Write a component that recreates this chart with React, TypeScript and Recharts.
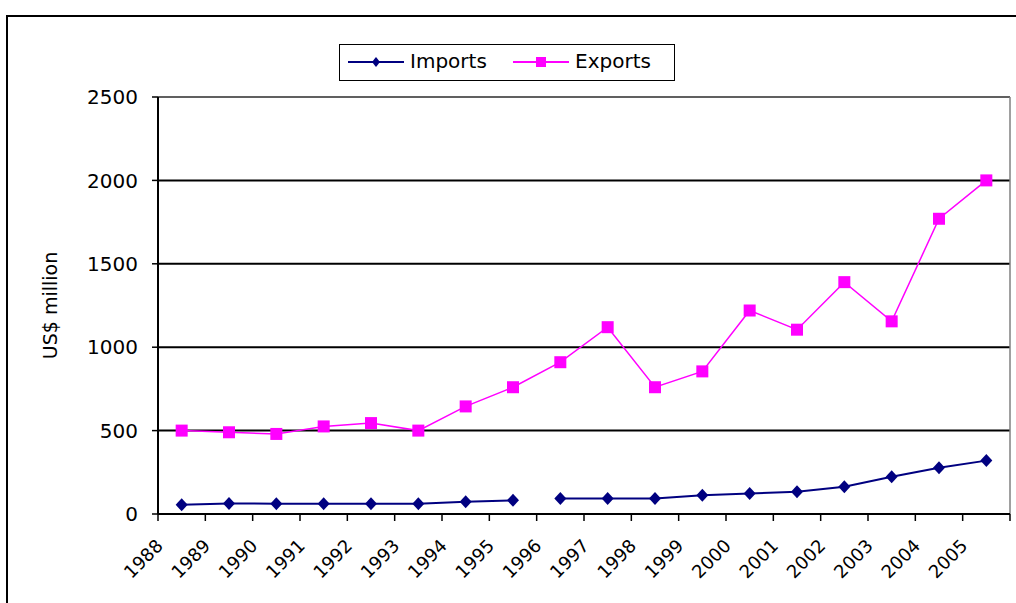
import React from 'react';
import { LineChart, Line, XAxis, YAxis, CartesianGrid, ReferenceLine } from 'recharts';

const years = ['1988', '1989', '1990', '1991', '1992', '1993', '1994', '1995', '1996', '1997', '1998', '1999', '2000', '2001', '2002', '2003', '2004', '2005'];
const exportsValues = [500, 490, 480, 525, 545, 500, 645, 760, 910, 1120, 760, 855, 1220, 1105, 1390, 1155, 1770, 2000];
const importsValues = [55, 63, 62, 62, 62, 62, 73, 82, 93, 93, 93, 113, 123, 133, 163, 223, 277, 320];
const importsBreakIndex = 8; // line is broken between 1995 and 1996
const yTicks = [0, 500, 1000, 1500, 2000, 2500];
const seriesNames = ['Imports', 'Exports'];

const NAVY = '#000080';
const MAGENTA = '#FF00FF';
const FONT = '"DejaVu Sans", Arial, sans-serif';

const rows = years.map((year, i) => ({
  x: i + 0.5,
  year,
  exports: exportsValues[i],
  importsA: i < importsBreakIndex ? importsValues[i] : null,
  importsB: i >= importsBreakIndex ? importsValues[i] : null,
}));

const xTicks = Array.from({ length: years.length + 1 }, (_, i) => i);

const Diamond = (props: any) => {
  const { cx, cy, key } = props;
  if (cx == null || cy == null || props.value == null) return <g key={key} />;
  return <path key={key} d={`M${cx},${cy - 6.5}L${cx + 6},${cy}L${cx},${cy + 6.5}L${cx - 6},${cy}Z`} fill={NAVY} />;
};

const Square = (props: any) => {
  const { cx, cy, key } = props;
  if (cx == null || cy == null) return <g key={key} />;
  return <rect key={key} x={cx - 6} y={cy - 6} width={12} height={12} fill={MAGENTA} />;
};

const XTick = (props: any) => {
  const { x, y, payload } = props;
  const label = years[payload.value];
  if (!label) return <g />;
  const ax = x + 6;
  const ay = y + 24;
  return (
    <text x={ax} y={ay} transform={`rotate(-45 ${ax} ${ay})`} textAnchor="end" fontSize={18} fontFamily={FONT} fill="#000">
      {label}
    </text>
  );
};

const YLabel = (props: any) => {
  const vb = props.viewBox || { x: 98, y: 97, width: 60, height: 417 };
  const lx = vb.x - 48;
  const ly = vb.y + vb.height / 2;
  return (
    <text x={lx} y={ly} transform={`rotate(-90 ${lx} ${ly})`} textAnchor="middle" dominantBaseline="central" fontSize={19} fontFamily={FONT} fill="#000">
      US$ million
    </text>
  );
};

const LegendItem = ({ color, marker, name, lineLeft, textLeft }: any) => (
  <>
    <svg style={{ position: 'absolute', left: lineLeft, top: 8, overflow: 'visible' }} width={56} height={18}>
      <line x1={0} y1={9} x2={56} y2={9} stroke={color} strokeWidth={2} />
      {marker === 'diamond' ? (
        <path d="M28,4L32,9L28,14L24,9Z" fill={color} />
      ) : (
        <rect x={23} y={4} width={10} height={10} fill={color} />
      )}
    </svg>
    <span style={{ position: 'absolute', left: textLeft, top: 4, fontSize: 20, fontFamily: FONT, lineHeight: '24px', color: '#000' }}>{name}</span>
  </>
);

export default function App() {
  return (
    <div style={{ position: 'absolute', left: 0, top: 0, width: 1016, height: 603, background: '#fff', overflow: 'hidden' }}>
      <div style={{ position: 'absolute', left: 6, top: 15, width: 1030, height: 620, borderTop: '2px solid #000', borderLeft: '2px solid #000', boxSizing: 'border-box' }} />
      <div style={{ position: 'absolute', left: 0, top: 0 }}>
        <LineChart width={1016} height={603} data={rows} margin={{ top: 97, right: 6, bottom: 9, left: 98 }} style={{ fontFamily: FONT }}>
          <CartesianGrid vertical={false} stroke="#000" strokeWidth={2} />
          <XAxis
            type="number"
            dataKey="x"
            domain={[0, years.length]}
            ticks={xTicks}
            interval={0}
            tick={<XTick />}
            tickSize={7}
            height={80}
            stroke="#000"
            axisLine={{ stroke: '#000', strokeWidth: 2 }}
            tickLine={{ stroke: '#000', strokeWidth: 1.5 }}
          />
          <YAxis
            domain={[0, 2500]}
            ticks={yTicks}
            interval={0}
            width={60}
            tickSize={6}
            tickMargin={14}
            tick={{ fontSize: 20, fontFamily: FONT, fill: '#000' }}
            axisLine={{ stroke: '#000', strokeWidth: 2 }}
            tickLine={{ stroke: '#000', strokeWidth: 1.5 }}
            label={<YLabel />}
          />
          <ReferenceLine y={2500} stroke="#808080" strokeWidth={1.5} />
          <ReferenceLine x={years.length} stroke="#808080" strokeWidth={1.5} />
          <Line dataKey="exports" name={seriesNames[1]} stroke={MAGENTA} strokeWidth={1.5} dot={Square} activeDot={false} isAnimationActive={false} />
          <Line dataKey="importsA" name={seriesNames[0]} stroke={NAVY} strokeWidth={2} dot={Diamond} activeDot={false} connectNulls={false} isAnimationActive={false} />
          <Line dataKey="importsB" name={seriesNames[0]} stroke={NAVY} strokeWidth={2} dot={Diamond} activeDot={false} connectNulls={false} legendType="none" isAnimationActive={false} />
        </LineChart>
      </div>
      <div style={{ position: 'absolute', left: 339, top: 44, width: 336, height: 37, border: '1.5px solid #000', boxSizing: 'border-box', background: '#fff' }}>
        <LegendItem color={NAVY} marker="diamond" name={seriesNames[0]} lineLeft={8} textLeft={70} />
        <LegendItem color={MAGENTA} marker="square" name={seriesNames[1]} lineLeft={173} textLeft={235} />
      </div>
    </div>
  );
}
